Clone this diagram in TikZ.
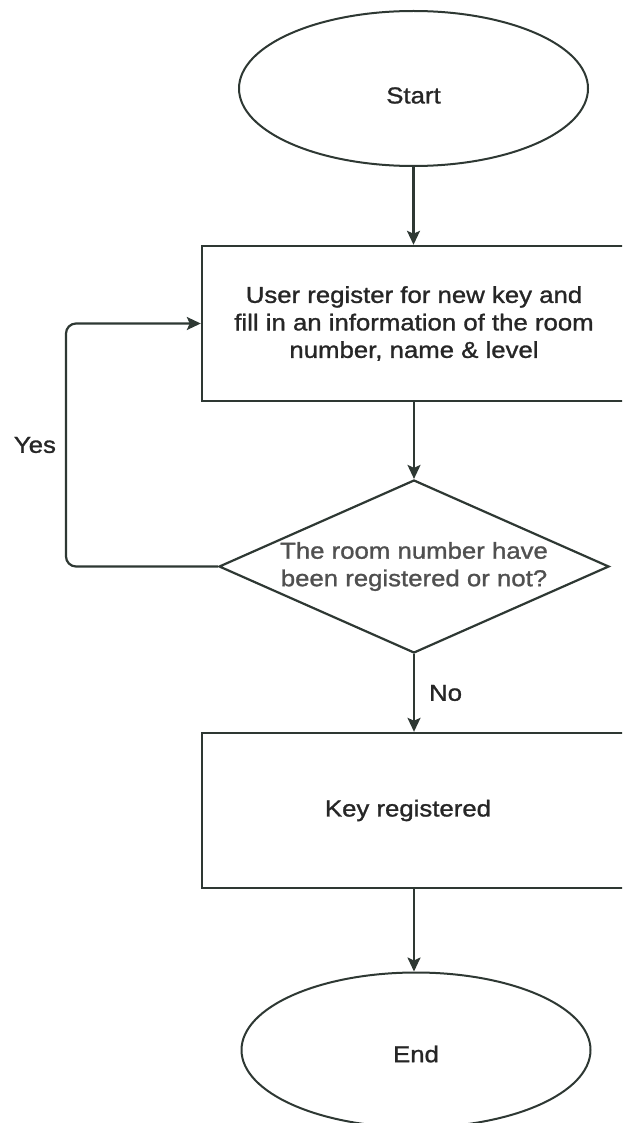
\documentclass[tikz,border=0pt]{standalone}
\usepackage{fontspec}
\setmainfont{Liberation Sans}[FakeStretch=1.12, FakeBold=1.2]
\usetikzlibrary{shapes.geometric,arrows.meta}

\definecolor{ln}{HTML}{2E3833}
\definecolor{txt}{HTML}{262626}
\definecolor{qtxt}{HTML}{505050}

\begin{document}
\begin{tikzpicture}[x=1pt,y=-1pt,
  every node/.style={font=\fontsize{23}{27.5}\selectfont, text=txt},
  terminal/.style={ellipse, draw=ln, line width=2pt, fill=white,
    minimum width=349pt, minimum height=155pt, inner sep=0pt},
  process/.style={rectangle, draw=ln, line width=2.4pt, fill=white,
    minimum width=424pt, minimum height=155pt, inner sep=0pt, align=center},
  decision/.style={diamond, draw=ln, line width=2.2pt, fill=white,
    shape aspect=2.25, minimum width=390pt, minimum height=173pt,
    inner sep=0pt, align=center, text=qtxt},
  flow/.style={draw=ln, line width=2.2pt,
    -{Stealth[length=14pt,width=13pt,inset=3pt]}},
  edgelabel/.style={inner sep=0pt}]

  % page frame
  \useasboundingbox (0,0) rectangle (622,1123);
  \clip (0,0) rectangle (622,1123);
  \fill[white] (0,0) rectangle (622,1123);

  % flowchart nodes
  \node[terminal] (start) at (413.5,88.5) {\raisebox{-7pt}[\height][\depth]{Start}};
  \node[process] (reg) at (414,323.5)
    {User register for new key and\\fill in an information of the room\\number, name \& level};
  \node[decision] (check) at (414,566.5)
    {The room number have\\been registered or not?};
  \node[process] (done) at (414,810.5) {\hspace*{-12pt}Key registered};
  \node[terminal] (end) at (416,1050) {\raisebox{-4pt}[\height][\depth]{End}};

  % left return path
  \coordinate (loopx) at (66,0);

  % connectors
  \draw[flow] (start) -- (start |- reg.north);
  \draw[flow] (reg.south) -- (check.north);
  \draw[flow] (check.south) -- node[edgelabel, right=14pt] {No} (done.north);
  \draw[flow] (done.south) -- (done.south |- end.north);
  \draw[flow, rounded corners=10pt] (check.west) -- (check.west -| loopx)
    -- node[edgelabel, left=9pt] {Yes} (reg.west -| loopx) -- (reg.west);
\end{tikzpicture}
\end{document}
